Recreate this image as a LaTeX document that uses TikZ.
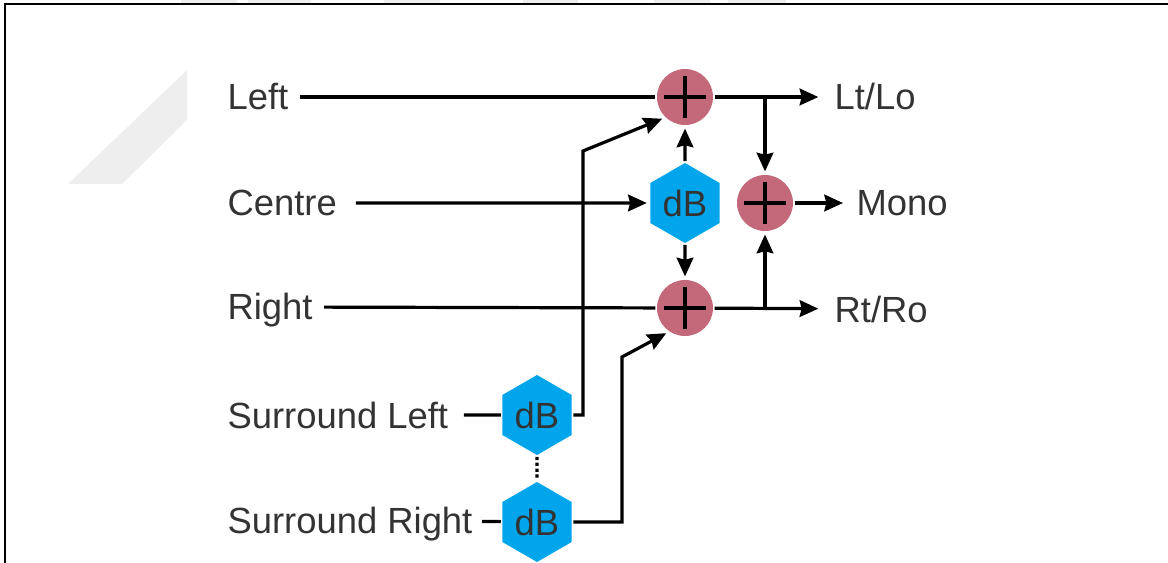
\documentclass[tikz,border=0pt]{standalone}
\usepackage{fontspec}
\setmainfont{Liberation Sans}
\usetikzlibrary{arrows.meta,positioning,shapes.geometric}
\definecolor{sumred}{HTML}{C4697A}
\definecolor{gainblue}{HTML}{00A5EC}
\definecolor{labelgrey}{HTML}{333333}
\definecolor{ghostgrey}{HTML}{EEEEEE}

\begin{document}
\begin{tikzpicture}[x=0.75pt,y=-0.75pt,>={Stealth[length=14pt,width=12.5pt,inset=1.5pt]},line width=2.4pt,shorten >=1.5pt]
	\tikzstyle{lbl}=[anchor=west,inner sep=0pt,text=labelgrey,font=\fontsize{27.3}{30}\selectfont,text height=19.5pt,text depth=0pt]
	\tikzstyle{gain}=[regular polygon,regular polygon sides=6,shape border rotate=30,fill=gainblue,minimum size=60pt,inner sep=0pt,text=labelgrey,font=\fontsize{27.3}{30}\selectfont]
	\tikzstyle{sum}=[circle,fill=sumred,minimum size=42pt,inner sep=0pt,path picture={
		\draw[line width=2.5pt,shorten >=0pt] (path picture bounding box.center) ++(-15.5pt,0) -- ++(31pt,0);
		\draw[line width=2.5pt,shorten >=0pt] (path picture bounding box.center) ++(0,-15.5pt) -- ++(0,31pt);}]
	\useasboundingbox (0,0) rectangle (1168,563);
	\fill[ghostgrey] (187,70) -- (187,120) -- (122,184) -- (68,184) -- cycle;
	\fill[ghostgrey] (181,0) rectangle (237,3) (248,0) rectangle (311,3) (384,0) rectangle (440,3)
		(523,0) rectangle (578,3) (654,0) rectangle (710,3) (728,0) rectangle (786,3);
	\draw[line width=2.2pt,shorten >=0pt] (5,563) -- (5,4) -- (1168,4);

	\node[lbl](nLeft) at (226,97){Left};
	\node[lbl](nCentre) at (226,203){Centre};
	\node[lbl](nRight) at (226,307){Right};
	\node[lbl](nSurL) at (226,415){Surround Left};
	\node[lbl](nSurR) at (226,520){Surround Right};
	\node[lbl](nLo) at (833,97){Lt/Lo};
	\node[lbl](nMono) at (855,203){Mono};
	\node[lbl](nRo) at (833,309){Rt/Ro};

	\node[sum](plusL) at (685,97){};
	\node[sum](plusR) at (685,308){};
	\node[sum](plusM) at (765,203){};
	\node[gain](dbC) at (685,203){dB};
	\node[gain](dbSL) at (537,415){dB};
	\node[gain](dbSR) at (537,522){dB};

	\coordinate (jnL) at (765,97);
	\coordinate (jnR) at (765,308);
	\coordinate (kneeSL) at (583,151);
	\coordinate (kneeSR) at (622,357);

	\draw (nLeft) edge[shorten <=7.5pt,shorten >=0pt] (plusL);
	\path[->] (nCentre) edge[shorten <=13pt] (dbC);
	\draw (nRight) edge[shorten <=7.5pt,shorten >=0pt] (plusR);
	\draw (nSurL) edge[shorten <=10.5pt,shorten >=0pt] (dbSL);
	\draw (nSurR) edge[shorten <=6pt,shorten >=0pt] (dbSR);
	\draw[dotted,shorten >=0pt] (dbSL) -- (dbSR);

	\path[->] (dbC) edge (plusL);
	\path[->] (dbC) edge (plusR);
	\path[->] (plusL) edge[shorten >=11pt] (nLo);
	\path[->] (plusR) edge[shorten >=11pt] (nRo);
	\path[->] (plusM) edge[shorten >=9pt] (nMono);
	\path[->] (jnL) edge (plusM);
	\path[->] (jnR) edge (plusM);
	\draw[->] (dbSL) -| (kneeSL) -- (plusL.225);
	\draw[->] (dbSR) -| (kneeSR) -- (plusR.235);
\end{tikzpicture}
\end{document}
